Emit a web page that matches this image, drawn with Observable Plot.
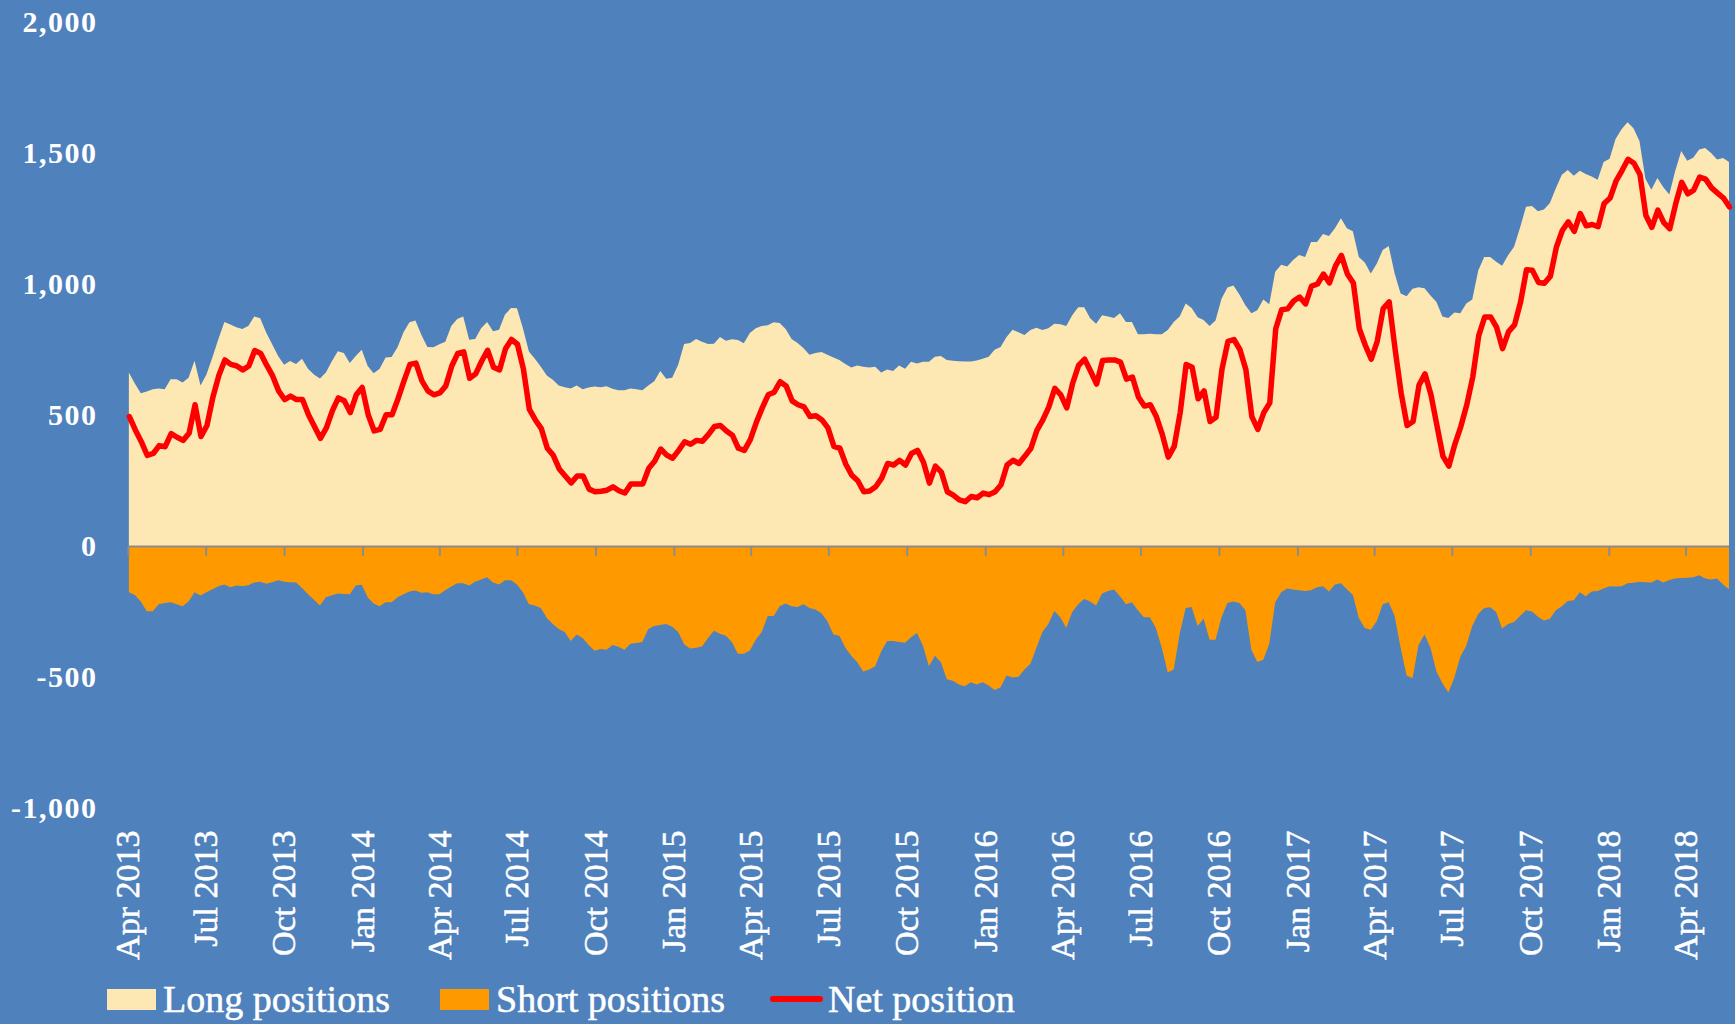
<!DOCTYPE html>
<html><head><meta charset="utf-8">
<script src="https://cdn.jsdelivr.net/npm/d3@7"></script>
<script src="https://cdn.jsdelivr.net/npm/@observablehq/plot@0.6"></script>
<style>
html,body{margin:0;padding:0;background:#4F81BD;}
#chart{width:1735px;height:1024px;overflow:hidden;}
#chart svg{display:block;}
.legend{position:relative;width:1735px;height:59px;font-family:"Liberation Serif",serif;color:#fff;font-size:38px;-webkit-text-stroke:0.5px #fff;}
.item{position:absolute;top:14px;height:40px;display:flex;align-items:center;white-space:nowrap;}
.sw{display:inline-block;width:49px;height:21px;margin-right:7px;}
.ln{display:inline-block;width:53px;height:6px;border-radius:3px;background:#FF0000;margin-right:5px;}
</style>
</head><body>
<div id="chart"></div>
<script>
// weekly positions (thousand contracts), week 0 = 2 Apr 2013
const longPositions = [
662,620,583,590,598,601,598,636,636,624,
642,707,613,655,720,790,855,845,835,828,
840,876,869,815,770,725,692,706,695,715,
677,655,639,662,705,743,737,698,725,749,
687,659,677,719,721,759,816,854,861,805,
760,759,770,780,840,866,876,787,790,831,
855,820,825,884,908,907,831,742,715,684,
651,635,613,606,601,613,598,605,609,606,
610,600,594,594,601,598,594,613,629,668,
638,642,692,771,775,790,780,771,772,798,
783,789,786,774,813,831,840,843,854,851,
828,790,775,755,730,737,740,730,719,710,
695,681,689,684,681,684,662,674,668,689,
677,703,697,703,703,722,725,710,707,705,
704,704,708,715,722,749,760,798,825,816,
805,824,833,824,831,848,846,840,881,911,
911,869,848,881,876,870,888,855,855,808,
808,810,808,808,824,855,876,926,908,873,
863,840,861,944,987,994,960,919,888,900,
941,923,1047,1073,1067,1092,1111,1103,1160,1160,
1191,1183,1213,1251,1213,1201,1103,1082,1040,1077,
1130,1145,1040,964,953,982,988,984,956,931,
876,870,891,888,926,941,1052,1103,1103,1085,
1070,1110,1142,1215,1295,1298,1278,1284,1309,1365,
1417,1435,1413,1432,1420,1410,1398,1466,1478,1553,
1591,1617,1594,1546,1402,1360,1405,1369,1342,1432,
1508,1470,1482,1513,1519,1500,1475,1481,1466];

const shortPositions = [
-177,-187,-212,-249,-249,-222,-218,-215,-222,-230,
-212,-177,-189,-177,-165,-154,-147,-157,-151,-153,
-150,-139,-136,-144,-138,-131,-136,-138,-139,-160,
-184,-205,-227,-196,-188,-181,-183,-184,-151,-148,
-196,-219,-230,-215,-215,-196,-184,-174,-170,-178,
-177,-184,-184,-169,-155,-142,-142,-151,-136,-128,
-119,-139,-147,-131,-131,-147,-177,-222,-227,-237,
-275,-298,-317,-328,-363,-338,-351,-378,-400,-393,
-396,-378,-385,-396,-373,-370,-366,-317,-305,-302,
-298,-308,-328,-375,-391,-388,-384,-351,-323,-335,
-343,-366,-411,-411,-399,-358,-328,-267,-267,-230,
-219,-230,-233,-222,-237,-242,-257,-287,-338,-343,
-388,-419,-444,-479,-471,-459,-403,-363,-363,-366,
-369,-348,-332,-381,-459,-419,-444,-509,-514,-529,
-535,-520,-529,-520,-532,-550,-539,-494,-502,-499,
-471,-449,-388,-328,-298,-248,-272,-313,-252,-222,
-202,-212,-227,-181,-172,-166,-192,-222,-215,-245,
-272,-272,-313,-388,-483,-471,-335,-237,-233,-305,
-278,-358,-358,-272,-218,-212,-218,-245,-396,-443,
-434,-373,-215,-177,-162,-166,-169,-172,-169,-157,
-154,-174,-147,-142,-165,-187,-275,-313,-320,-287,
-222,-215,-267,-388,-494,-505,-378,-338,-388,-479,
-524,-559,-502,-423,-381,-305,-260,-237,-234,-252,
-315,-298,-290,-267,-245,-250,-270,-284,-278,-245,
-230,-210,-207,-177,-192,-174,-172,-162,-154,-155,
-154,-142,-140,-136,-138,-139,-128,-139,-130,-124,
-122,-121,-119,-112,-124,-128,-124,-147,-165];

const netPosition = [
496,445,400,348,355,385,381,431,417,405,
432,541,420,462,571,654,712,695,689,674,
689,748,737,692,651,594,561,574,561,561,
503,458,413,453,518,567,556,511,579,607,
503,441,447,503,503,564,632,695,700,632,
594,579,586,613,689,737,743,642,659,707,
749,684,674,755,790,772,677,523,483,450,
375,348,296,269,243,269,269,219,209,211,
215,228,213,204,239,239,239,299,326,372,
349,337,367,400,390,405,402,428,458,462,
441,425,375,367,408,473,529,579,589,629,
613,556,541,533,496,499,483,453,382,375,
314,272,251,209,212,228,261,317,311,329,
311,355,367,322,242,307,284,209,196,178,
171,191,186,204,198,209,236,311,329,317,
345,375,443,483,533,604,579,529,624,692,
715,669,620,710,712,712,704,639,647,571,
536,541,496,428,341,382,511,695,684,564,
594,477,493,677,783,790,752,675,496,447,
511,548,831,904,907,937,952,926,994,1002,
1040,1006,1070,1111,1040,1006,831,768,715,783,
908,934,752,586,462,477,616,659,579,462,
345,307,390,458,541,647,805,876,876,836,
755,820,846,932,1056,1054,1008,1005,1032,1142,
1206,1239,1203,1271,1224,1229,1221,1309,1330,1395,
1435,1478,1463,1420,1263,1218,1284,1236,1213,1309,
1390,1346,1360,1410,1402,1369,1349,1330,1296];

const yTicks = [-1000, -500, 0, 500, 1000, 1500, 2000];
const legendLabels = ["Long positions", "Short positions", "Net position"];
const colors = {long: "#FDE7B2", short: "#FF9900", net: "#FF0000", bg: "#4F81BD", axis: "#8C8C8C"};

const firstWeek = new Date(Date.UTC(2013, 3, 2));
const data = longPositions.map((v, i) => ({
  date: d3.utcDay.offset(firstWeek, 7 * i),
  long: v, short: shortPositions[i], net: netPosition[i]
}));
const xDomain = [new Date(Date.UTC(2013, 3, 1)), data[data.length - 1].date];
const quarterTicks = d3.utcMonth.every(3).range(xDomain[0], d3.utcDay.offset(xDomain[1], 1));

const chart = Plot.plot({
  width: 1735, height: 965,
  marginLeft: 128, marginRight: 6, marginTop: 22, marginBottom: 157,
  style: {background: colors.bg, color: "#fff", fontFamily: "'Liberation Serif', serif", fontSize: "30px", overflow: "visible"},
  x: {type: "utc", domain: xDomain, ticks: quarterTicks, tickFormat: d3.utcFormat("%b %Y"),
      tickRotate: -90, tickSize: 0, tickPadding: 22, label: null},
  y: {domain: [-1000, 2000], ticks: yTicks, tickFormat: d => d.toLocaleString("en-US"),
      tickSize: 0, tickPadding: 31, label: null},
  marks: [
    Plot.areaY(data, {x: "date", y: "long", fill: colors.long}),
    Plot.areaY(data, {x: "date", y: "short", fill: colors.short}),
    Plot.ruleY([0], {stroke: colors.axis, strokeWidth: 2}),
    Plot.ruleX(quarterTicks, {x: d => d, y1: 0, y2: -38, stroke: colors.axis, strokeWidth: 2}),
    Plot.lineY(data, {x: "date", y: "net", stroke: colors.net, strokeWidth: 5.5, strokeLinejoin: "round", strokeLinecap: "round"})
  ]
});

const svg = d3.select(chart);
svg.selectAll('g[aria-label^="y-axis"] text').attr("font-weight", "bold").attr("font-size", 30).attr("letter-spacing", 1.5);
svg.selectAll('g[aria-label^="x-axis"] text').attr("font-size", 34).attr("stroke", "#fff").attr("stroke-width", 0.5);

const root = document.getElementById("chart");
root.appendChild(chart);

const legend = document.createElement("div");
legend.className = "legend";
const lefts = [107, 440, 770];
legendLabels.forEach((lab, i) => {
  const it = document.createElement("div");
  it.className = "item";
  it.style.left = lefts[i] + "px";
  const sw = document.createElement("span");
  if (i < 2) { sw.className = "sw"; sw.style.background = i === 0 ? colors.long : colors.short; }
  else { sw.className = "ln"; }
  it.appendChild(sw);
  const t = document.createElement("span");
  t.textContent = lab;
  it.appendChild(t);
  legend.appendChild(it);
});
root.appendChild(legend);
</script>
</body></html>
